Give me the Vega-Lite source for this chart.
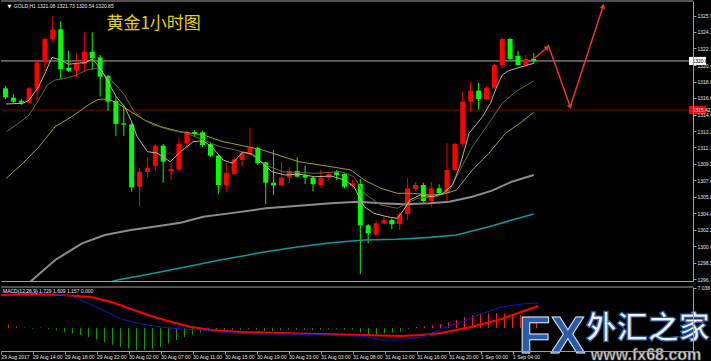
{
  "$schema": "https://vega.github.io/schema/vega-lite/v6.json",
  "background": "#000000",
  "padding": {"left": 0, "top": 0, "right": 1, "bottom": 6},
  "spacing": 2,
  "config": {"view": {"stroke": null}, "text": {"font": "Liberation Sans"}, "axis": {"labelFont": "Liberation Sans", "grid": false}},
  "datasets": {
    "candles": [
      {"k":0,"o":1317.82,"h":1318.08,"l":1316.64,"c":1316.83},
      {"k":1,"o":1316.79,"h":1317.16,"l":1316.17,"c":1316.34},
      {"k":2,"o":1316.45,"h":1316.67,"l":1315.98,"c":1316.23},
      {"k":3,"o":1316.23,"h":1317.94,"l":1316.17,"c":1317.82},
      {"k":4,"o":1317.71,"h":1320.96,"l":1316.45,"c":1320.70},
      {"k":5,"o":1320.70,"h":1323.47,"l":1319.66,"c":1323.28},
      {"k":6,"o":1323.28,"h":1325.82,"l":1322.87,"c":1324.35},
      {"k":7,"o":1324.35,"h":1325.27,"l":1318.82,"c":1319.93},
      {"k":8,"o":1320.07,"h":1321.98,"l":1319.66,"c":1319.77},
      {"k":9,"o":1319.77,"h":1321.70,"l":1319.04,"c":1320.51},
      {"k":10,"o":1320.51,"h":1324.02,"l":1319.66,"c":1321.87},
      {"k":11,"o":1321.87,"h":1324.02,"l":1319.85,"c":1321.14},
      {"k":12,"o":1321.25,"h":1321.51,"l":1316.90,"c":1319.11},
      {"k":13,"o":1319.19,"h":1319.30,"l":1315.31,"c":1316.34},
      {"k":14,"o":1316.45,"h":1316.90,"l":1312.55,"c":1313.88},
      {"k":15,"o":1313.95,"h":1315.98,"l":1312.55,"c":1313.80},
      {"k":16,"o":1313.84,"h":1313.95,"l":1306.39,"c":1306.87},
      {"k":17,"o":1306.94,"h":1309.01,"l":1304.80,"c":1308.60},
      {"k":18,"o":1308.57,"h":1310.15,"l":1307.94,"c":1309.04},
      {"k":19,"o":1309.26,"h":1311.66,"l":1308.71,"c":1311.48},
      {"k":20,"o":1311.48,"h":1311.66,"l":1307.38,"c":1309.71},
      {"k":21,"o":1308.64,"h":1309.59,"l":1307.68,"c":1308.90},
      {"k":22,"o":1308.86,"h":1312.40,"l":1308.60,"c":1311.70},
      {"k":23,"o":1311.70,"h":1313.13,"l":1311.25,"c":1313.02},
      {"k":24,"o":1312.99,"h":1313.21,"l":1312.47,"c":1312.77},
      {"k":25,"o":1312.96,"h":1313.13,"l":1311.36,"c":1311.55},
      {"k":26,"o":1311.66,"h":1311.81,"l":1310.26,"c":1310.37},
      {"k":27,"o":1310.37,"h":1310.56,"l":1306.10,"c":1307.13},
      {"k":28,"o":1307.13,"h":1309.53,"l":1306.39,"c":1308.49},
      {"k":29,"o":1308.34,"h":1310.26,"l":1308.23,"c":1309.97},
      {"k":30,"o":1309.89,"h":1310.81,"l":1309.15,"c":1310.70},
      {"k":31,"o":1310.70,"h":1313.47,"l":1310.63,"c":1311.25},
      {"k":32,"o":1311.25,"h":1311.36,"l":1309.34,"c":1309.53},
      {"k":33,"o":1309.64,"h":1309.71,"l":1305.03,"c":1307.38},
      {"k":34,"o":1307.38,"h":1311.00,"l":1306.02,"c":1307.09},
      {"k":35,"o":1307.09,"h":1309.64,"l":1306.94,"c":1307.94},
      {"k":36,"o":1307.94,"h":1309.15,"l":1307.32,"c":1308.68},
      {"k":37,"o":1308.68,"h":1310.19,"l":1307.94,"c":1308.05},
      {"k":38,"o":1308.20,"h":1309.23,"l":1307.24,"c":1307.94},
      {"k":39,"o":1307.94,"h":1308.05,"l":1306.46,"c":1307.21},
      {"k":40,"o":1307.13,"h":1308.86,"l":1306.76,"c":1307.94},
      {"k":41,"o":1307.94,"h":1308.49,"l":1307.68,"c":1308.34},
      {"k":42,"o":1308.60,"h":1308.79,"l":1307.68,"c":1308.23},
      {"k":43,"o":1308.34,"h":1308.42,"l":1306.76,"c":1306.94},
      {"k":44,"o":1307.05,"h":1307.68,"l":1306.87,"c":1307.32},
      {"k":45,"o":1307.24,"h":1307.76,"l":1297.28,"c":1302.67},
      {"k":46,"o":1302.67,"h":1302.81,"l":1300.68,"c":1301.79},
      {"k":47,"o":1301.67,"h":1303.18,"l":1301.60,"c":1302.89},
      {"k":48,"o":1302.89,"h":1303.62,"l":1302.81,"c":1303.26},
      {"k":49,"o":1303.26,"h":1303.44,"l":1302.23,"c":1302.78},
      {"k":50,"o":1302.81,"h":1304.11,"l":1302.15,"c":1303.92},
      {"k":51,"o":1303.92,"h":1307.87,"l":1303.26,"c":1306.76},
      {"k":52,"o":1306.69,"h":1307.49,"l":1306.50,"c":1307.13},
      {"k":53,"o":1307.13,"h":1307.38,"l":1305.21,"c":1305.36},
      {"k":54,"o":1305.36,"h":1307.49,"l":1304.73,"c":1306.76},
      {"k":55,"o":1306.76,"h":1307.21,"l":1306.02,"c":1306.21},
      {"k":56,"o":1306.21,"h":1311.74,"l":1305.10,"c":1308.79},
      {"k":57,"o":1308.79,"h":1311.81,"l":1308.71,"c":1311.66},
      {"k":58,"o":1311.66,"h":1317.45,"l":1311.36,"c":1316.34},
      {"k":59,"o":1316.34,"h":1318.55,"l":1315.24,"c":1317.56},
      {"k":60,"o":1317.56,"h":1318.44,"l":1315.54,"c":1316.64},
      {"k":61,"o":1316.64,"h":1318.08,"l":1316.53,"c":1317.89},
      {"k":62,"o":1317.89,"h":1320.59,"l":1317.82,"c":1320.40},
      {"k":63,"o":1320.40,"h":1323.47,"l":1320.04,"c":1323.28},
      {"k":64,"o":1323.28,"h":1323.36,"l":1320.96,"c":1321.07},
      {"k":65,"o":1321.43,"h":1321.95,"l":1320.32,"c":1320.40},
      {"k":66,"o":1320.40,"h":1321.51,"l":1320.21,"c":1321.07},
      {"k":67,"o":1321.08,"h":1321.73,"l":1320.54,"c":1320.85}
    ],
    "ma5": [
      {"k":0.1,"v":1316.09},{"k":2.2,"v":1316.16},{"k":3,"v":1316.53},{"k":4.2,"v":1318.0},{"k":5.1,"v":1319.66},{"k":5.9,"v":1321.25},{"k":7,"v":1320.95},{"k":8,"v":1320.48},{"k":9.05,"v":1320.59},{"k":10.1,"v":1320.66},{"k":11,"v":1321.07},{"k":12,"v":1320.07},{"k":13,"v":1318.55},{"k":14.05,"v":1316.89},{"k":15.1,"v":1315.79},{"k":15.9,"v":1314.32},{"k":16.7,"v":1312.47},{"k":18,"v":1310.81},{"k":19.2,"v":1310.67},{"k":20.9,"v":1309.70},{"k":22.2,"v":1310.81},{"k":23.8,"v":1311.92},{"k":25.1,"v":1312.03},{"k":26.3,"v":1311.22},{"k":27.6,"v":1309.89},{"k":28.8,"v":1309.53},{"k":30.1,"v":1310.78},{"k":31.3,"v":1310.55},{"k":32.6,"v":1309.53},{"k":33.8,"v":1308.60},{"k":35.5,"v":1308.23},{"k":37.2,"v":1308.34},{"k":39.2,"v":1308.04},{"k":41.3,"v":1308.12},{"k":43,"v":1307.68},{"k":44.2,"v":1306.94},{"k":45.5,"v":1304.73},{"k":46.7,"v":1304.0},{"k":48.4,"v":1303.62},{"k":49.7,"v":1303.44},{"k":50.5,"v":1304.36},{"k":51.3,"v":1305.47},{"k":52.6,"v":1306.02},{"k":54.2,"v":1305.83},{"k":55.5,"v":1306.21},{"k":56.7,"v":1307.13},{"k":57.6,"v":1309.15},{"k":58.8,"v":1312.84},{"k":60.5,"v":1314.68},{"k":61.5,"v":1316.16},{"k":62.3,"v":1318.0},{"k":63,"v":1319.29},{"k":63.8,"v":1319.77},{"k":65.5,"v":1320.21},{"k":67,"v":1320.59}
    ],
    "ma10": [
      {"k":0.1,"v":1313.02},{"k":1.7,"v":1313.98},{"k":3,"v":1314.87},{"k":4.2,"v":1316.53},{"k":5.3,"v":1318.19},{"k":6.3,"v":1318.74},{"k":7.6,"v":1318.93},{"k":9.05,"v":1319.29},{"k":10.3,"v":1319.85},{"k":11.55,"v":1320.04},{"k":12.6,"v":1319.29},{"k":13.8,"v":1318.37},{"k":15.1,"v":1317.08},{"k":16.3,"v":1315.24},{"k":17.6,"v":1314.32},{"k":18.8,"v":1313.77},{"k":20.9,"v":1313.21},{"k":23,"v":1312.84},{"k":25.1,"v":1312.10},{"k":27.2,"v":1311.36},{"k":29.2,"v":1311.0},{"k":31.3,"v":1310.44},{"k":33,"v":1309.34},{"k":35.1,"v":1308.60},{"k":39.2,"v":1308.42},{"k":42.6,"v":1308.60},{"k":44.2,"v":1308.04},{"k":45.5,"v":1306.21},{"k":47.6,"v":1304.91},{"k":49.7,"v":1304.55},{"k":50.5,"v":1304.91},{"k":52.2,"v":1305.65},{"k":54.7,"v":1305.83},{"k":56.3,"v":1306.57},{"k":57.2,"v":1308.04},{"k":59.2,"v":1311.36},{"k":61.3,"v":1313.95},{"k":63,"v":1316.16},{"k":64.7,"v":1317.45},{"k":67,"v":1318.63}
    ],
    "ma20": [
      {"k":0.1,"v":1307.87},{"k":2.2,"v":1309.53},{"k":4.25,"v":1311.36},{"k":6.3,"v":1313.58},{"k":8.4,"v":1314.68},{"k":10.5,"v":1315.98},{"k":11.75,"v":1316.60},{"k":13,"v":1316.64},{"k":14.2,"v":1316.16},{"k":15.9,"v":1315.24},{"k":17.6,"v":1314.32},{"k":19.7,"v":1313.58},{"k":22.2,"v":1313.02},{"k":25.1,"v":1312.66},{"k":27.6,"v":1311.92},{"k":30.1,"v":1311.47},{"k":32.6,"v":1311.0},{"k":37.2,"v":1309.70},{"k":41.3,"v":1309.15},{"k":43.8,"v":1308.79},{"k":45.5,"v":1307.68},{"k":47.6,"v":1306.76},{"k":49.7,"v":1306.21},{"k":51.7,"v":1306.21},{"k":53.8,"v":1306.02},{"k":55.5,"v":1306.10},{"k":57.2,"v":1306.57},{"k":59.2,"v":1308.79},{"k":61.3,"v":1310.63},{"k":63.4,"v":1312.84},{"k":65.5,"v":1314.13},{"k":67,"v":1315.17}
    ],
    "ma60": [
      {"k":2,"v":1295.5},{"k":3.4,"v":1296.62},{"k":6.3,"v":1298.83},{"k":9.7,"v":1300.68},{"k":12.6,"v":1301.59},{"k":15.9,"v":1302.15},{"k":18.8,"v":1302.51},{"k":22.2,"v":1302.96},{"k":25.1,"v":1303.62},{"k":28.4,"v":1303.99},{"k":33,"v":1304.55},{"k":37.2,"v":1304.84},{"k":41.3,"v":1305.10},{"k":44.7,"v":1305.28},{"k":47.6,"v":1305.10},{"k":50.5,"v":1304.99},{"k":53.8,"v":1305.10},{"k":56.3,"v":1305.28},{"k":59.2,"v":1305.83},{"k":61.7,"v":1306.50},{"k":64.2,"v":1307.49},{"k":67,"v":1308.23}
    ],
    "ma120": [
      {"k":12.5,"v":1296.2},{"k":14.2,"v":1296.62},{"k":18.8,"v":1297.36},{"k":23,"v":1298.09},{"k":27.2,"v":1298.83},{"k":30.1,"v":1299.27},{"k":33,"v":1299.75},{"k":37.2,"v":1300.30},{"k":41.3,"v":1300.74},{"k":45.5,"v":1301.04},{"k":49.7,"v":1301.12},{"k":53.8,"v":1301.34},{"k":57.2,"v":1301.59},{"k":58.8,"v":1301.96},{"k":61.3,"v":1302.51},{"k":64.2,"v":1303.25},{"k":67,"v":1303.92}
    ],
    "arrows": [
      {"seg":1,"k":67.09,"p":1321.14},{"seg":1,"k":68.71,"p":1322.36},
      {"seg":2,"k":68.84,"p":1322.61},{"seg":2,"k":71.63,"p":1315.79},
      {"seg":3,"k":71.63,"p":1315.79},{"seg":3,"k":75.8,"p":1326.93}
    ],
    "hist": [
      {"k":0,"h":0.4},{"k":1,"h":0.6},{"k":2,"h":0.3},{"k":3,"h":0.1},{"k":4,"h":-0.1},{"k":5,"h":0.1},{"k":6,"h":-0.2},{"k":7,"h":-0.4},{"k":8,"h":-0.7},{"k":9,"h":-0.9},{"k":10,"h":-1.2},{"k":11,"h":-1.6},{"k":12,"h":-2.0},{"k":13,"h":-2.5},{"k":14,"h":-2.9},{"k":15,"h":-3.3},{"k":16,"h":-3.6},{"k":17,"h":-3.85},{"k":18,"h":-3.8},{"k":19,"h":-3.6},{"k":20,"h":-3.3},{"k":21,"h":-2.7},{"k":22,"h":-2.1},{"k":23,"h":-1.6},{"k":24,"h":-1.1},{"k":25,"h":-0.8},{"k":26,"h":-0.6},{"k":27,"h":-0.4},{"k":28,"h":-0.4},{"k":29,"h":-0.3},{"k":30,"h":-0.3},{"k":31,"h":-0.2},{"k":32,"h":-0.3},{"k":33,"h":-0.5},{"k":34,"h":-0.5},{"k":35,"h":-0.4},{"k":36,"h":-0.3},{"k":37,"h":-0.3},{"k":38,"h":-0.3},{"k":39,"h":-0.4},{"k":40,"h":-0.3},{"k":41,"h":-0.2},{"k":42,"h":-0.2},{"k":43,"h":-0.3},{"k":44,"h":-0.3},{"k":45,"h":-0.8},{"k":46,"h":-1.1},{"k":47,"h":-1.1},{"k":48,"h":-0.9},{"k":49,"h":-0.8},{"k":50,"h":-0.6},{"k":51,"h":-0.2},{"k":52,"h":0.2},{"k":53,"h":0.3},{"k":54,"h":0.5},{"k":55,"h":0.7},{"k":56,"h":1.0},{"k":57,"h":1.4},{"k":58,"h":1.9},{"k":59,"h":2.3},{"k":60,"h":2.5},{"k":61,"h":2.6},{"k":62,"h":2.6},{"k":63,"h":2.6},{"k":64,"h":2.5},{"k":65,"h":2.3},{"k":66,"h":2.1},{"k":67,"h":1.9}
    ],
    "dif": [
      {"k":0.09,"v":6.32},{"k":5.09,"v":6.32},{"k":8.84,"v":5.62},{"k":12.59,"v":3.34},{"k":15.09,"v":1.59},{"k":17.59,"v":0.72},{"k":20.09,"v":0.19},{"k":22.59,"v":-0.16},{"k":25.09,"v":-0.33},{"k":28.84,"v":-0.86},{"k":32.59,"v":-1.03},{"k":36.34,"v":-1.03},{"k":41.34,"v":-1.21},{"k":45.09,"v":-1.38},{"k":47.59,"v":-2.08},{"k":50.09,"v":-2.08},{"k":52.59,"v":-1.56},{"k":55.09,"v":-0.16},{"k":57.59,"v":1.07},{"k":60.09,"v":2.47},{"k":62.59,"v":3.70},{"k":65.09,"v":4.22},{"k":67.21,"v":4.40}
    ],
    "dea": [
      {"k":0.09,"v":5.80},{"k":3.84,"v":5.97},{"k":7.59,"v":5.80},{"k":11.34,"v":5.45},{"k":13.84,"v":4.57},{"k":16.34,"v":3.34},{"k":18.84,"v":2.12},{"k":21.34,"v":1.07},{"k":23.84,"v":0.19},{"k":26.34,"v":-0.33},{"k":30.09,"v":-0.68},{"k":35.09,"v":-0.86},{"k":40.09,"v":-1.03},{"k":45.09,"v":-1.21},{"k":50.09,"v":-1.38},{"k":52.59,"v":-1.21},{"k":55.09,"v":-0.86},{"k":58.84,"v":0.19},{"k":62.59,"v":1.59},{"k":65.09,"v":2.82},{"k":67.21,"v":3.87}
    ],
    "pticks": [
      {"p":1296.70},{"p":1298.52},{"p":1300.36},{"p":1302.17},{"p":1303.99},{"p":1305.81},{"p":1307.63},{"p":1309.46},{"p":1311.28},{"p":1313.10},{"p":1314.92},{"p":1316.76},{"p":1318.56},{"p":1320.39},{"p":1322.25},{"p":1324.06},{"p":1325.86}
    ]
  },
  "vconcat": [
    {
      "width": 692,
      "height": 280,
      "resolve": {"axis": {"x": "independent", "y": "independent"}},
      "layer": [
        {
          "data": {"name": "pticks"},
          "mark": {"type": "tick", "opacity": 0},
          "encoding": {
            "x": {"datum": 1, "type": "quantitative", "scale": {"domain": [0.0625, 86.5625], "nice": false, "zero": false},
                  "axis": {"orient": "bottom", "labels": false, "ticks": false, "domain": true, "domainColor": "#a0a0a0", "title": null}},
            "y": {"field": "p", "type": "quantitative", "scale": {"domain": [1296.51, 1327.48], "nice": false, "zero": false},
                  "axis": {"orient": "right", "title": null, "values": [1296.70, 1298.52, 1300.36, 1302.17, 1303.99, 1305.81, 1307.63, 1309.46, 1311.28, 1313.10, 1314.92, 1316.76, 1318.56, 1320.39, 1322.25, 1324.06, 1325.86],
                           "format": ".1f", "labelFontSize": 5, "labelColor": "#e6e6e6", "labelPadding": 1, "tickSize": 3, "tickColor": "#a0a0a0", "domainColor": "#a0a0a0", "labelOverlap": false, "labelFlush": false, "labelBound": false, "zindex": 1}}
          }
        },
        {
          "data": {"values": [{}]},
          "mark": {"type": "rule", "color": "#a0a0a0", "strokeWidth": 1},
          "encoding": {"y": {"datum": 1327.48, "type": "quantitative", "scale": {"domain": [1296.51, 1327.48], "nice": false, "zero": false}, "axis": null}}
        },
        {
          "data": {"values": [{}]},
          "mark": {"type": "rule", "color": "#b0b0b0", "strokeWidth": 1},
          "encoding": {"y": {"datum": 1320.85, "type": "quantitative", "scale": {"domain": [1296.51, 1327.48], "nice": false, "zero": false}, "axis": null}}
        },
        {
          "data": {"values": [{}]},
          "mark": {"type": "rule", "color": "#8b0000", "strokeWidth": 1},
          "encoding": {"y": {"datum": 1315.42, "type": "quantitative", "scale": {"domain": [1296.51, 1327.48], "nice": false, "zero": false}, "axis": null}}
        },
        {
          "data": {"name": "candles"},
          "mark": {"type": "rule", "strokeWidth": 1, "clip": true},
          "encoding": {
            "x": {"field": "k", "type": "quantitative", "scale": {"domain": [0.0625, 86.5625], "nice": false, "zero": false}, "axis": null},
            "y": {"field": "l", "type": "quantitative", "scale": {"domain": [1296.51, 1327.48], "nice": false, "zero": false}, "axis": null},
            "y2": {"field": "h"},
            "color": {"condition": {"test": "datum.c >= datum.o", "value": "#ff0000"}, "value": "#00ff00"}
          }
        },
        {
          "data": {"name": "candles"},
          "mark": {"type": "bar", "width": 5, "clip": true},
          "encoding": {
            "x": {"field": "k", "type": "quantitative", "scale": {"domain": [0.0625, 86.5625], "nice": false, "zero": false}, "axis": null},
            "y": {"field": "o", "type": "quantitative", "scale": {"domain": [1296.51, 1327.48], "nice": false, "zero": false}, "axis": null},
            "y2": {"field": "c"},
            "color": {"condition": {"test": "datum.c >= datum.o", "value": "#ff0000"}, "value": "#00ff00"}
          }
        },
        {
          "data": {"name": "ma120"},
          "mark": {"type": "line", "color": "#0a9a9a", "strokeWidth": 1.6, "clip": true},
          "encoding": {
            "x": {"field": "k", "type": "quantitative", "scale": {"domain": [0.0625, 86.5625], "nice": false, "zero": false}, "axis": null},
            "y": {"field": "v", "type": "quantitative", "scale": {"domain": [1296.51, 1327.48], "nice": false, "zero": false}, "axis": null}
          }
        },
        {
          "data": {"name": "ma60"},
          "mark": {"type": "line", "color": "#8c8c8c", "strokeWidth": 2, "clip": true},
          "encoding": {
            "x": {"field": "k", "type": "quantitative", "scale": {"domain": [0.0625, 86.5625], "nice": false, "zero": false}, "axis": null},
            "y": {"field": "v", "type": "quantitative", "scale": {"domain": [1296.51, 1327.48], "nice": false, "zero": false}, "axis": null}
          }
        },
        {
          "data": {"name": "ma20"},
          "mark": {"type": "line", "color": "#a89e1e", "strokeWidth": 1, "clip": true},
          "encoding": {
            "x": {"field": "k", "type": "quantitative", "scale": {"domain": [0.0625, 86.5625], "nice": false, "zero": false}, "axis": null},
            "y": {"field": "v", "type": "quantitative", "scale": {"domain": [1296.51, 1327.48], "nice": false, "zero": false}, "axis": null}
          }
        },
        {
          "data": {"name": "ma10"},
          "mark": {"type": "line", "color": "#6e6826", "strokeWidth": 1, "clip": true},
          "encoding": {
            "x": {"field": "k", "type": "quantitative", "scale": {"domain": [0.0625, 86.5625], "nice": false, "zero": false}, "axis": null},
            "y": {"field": "v", "type": "quantitative", "scale": {"domain": [1296.51, 1327.48], "nice": false, "zero": false}, "axis": null}
          }
        },
        {
          "data": {"name": "ma5"},
          "mark": {"type": "line", "color": "#bfb3a0", "strokeWidth": 1, "clip": true},
          "encoding": {
            "x": {"field": "k", "type": "quantitative", "scale": {"domain": [0.0625, 86.5625], "nice": false, "zero": false}, "axis": null},
            "y": {"field": "v", "type": "quantitative", "scale": {"domain": [1296.51, 1327.48], "nice": false, "zero": false}, "axis": null}
          }
        },
        {
          "data": {"name": "arrows"},
          "mark": {"type": "line", "color": "#f03232", "strokeWidth": 1.5},
          "encoding": {
            "x": {"field": "k", "type": "quantitative", "scale": {"domain": [0.0625, 86.5625], "nice": false, "zero": false}, "axis": null},
            "y": {"field": "p", "type": "quantitative", "scale": {"domain": [1296.51, 1327.48], "nice": false, "zero": false}, "axis": null},
            "detail": {"field": "seg", "type": "nominal"}
          }
        },
        {
          "data": {"values": [{"k": 68.71, "p": 1322.36}]},
          "mark": {"type": "point", "shape": "triangle-up", "filled": true, "size": 30, "angle": 50, "color": "#f03232", "opacity": 1},
          "encoding": {
            "x": {"field": "k", "type": "quantitative", "scale": {"domain": [0.0625, 86.5625], "nice": false, "zero": false}, "axis": null},
            "y": {"field": "p", "type": "quantitative", "scale": {"domain": [1296.51, 1327.48], "nice": false, "zero": false}, "axis": null}
          }
        },
        {
          "data": {"values": [{"k": 71.63, "p": 1315.79}]},
          "mark": {"type": "point", "shape": "triangle-up", "filled": true, "size": 30, "angle": 160, "color": "#f03232", "opacity": 1},
          "encoding": {
            "x": {"field": "k", "type": "quantitative", "scale": {"domain": [0.0625, 86.5625], "nice": false, "zero": false}, "axis": null},
            "y": {"field": "p", "type": "quantitative", "scale": {"domain": [1296.51, 1327.48], "nice": false, "zero": false}, "axis": null}
          }
        },
        {
          "data": {"values": [{"k": 75.8, "p": 1326.93}]},
          "mark": {"type": "point", "shape": "triangle-up", "filled": true, "size": 30, "angle": 18, "color": "#f03232", "opacity": 1},
          "encoding": {
            "x": {"field": "k", "type": "quantitative", "scale": {"domain": [0.0625, 86.5625], "nice": false, "zero": false}, "axis": null},
            "y": {"field": "p", "type": "quantitative", "scale": {"domain": [1296.51, 1327.48], "nice": false, "zero": false}, "axis": null}
          }
        },
        {
          "data": {"values": [{}]},
          "mark": {"type": "text", "text": "▼", "font": "DejaVu Sans", "fontSize": 5, "color": "#ffffff", "align": "center", "baseline": "middle"},
          "encoding": {
            "x": {"datum": 0.5, "type": "quantitative", "scale": {"domain": [0.0625, 86.5625], "nice": false, "zero": false}, "axis": null},
            "y": {"datum": 1326.93, "type": "quantitative", "scale": {"domain": [1296.51, 1327.48], "nice": false, "zero": false}, "axis": null}
          }
        },
        {
          "data": {"values": [{}]},
          "mark": {"type": "text", "text": "GOLD,H1  1321.08 1321.73 1320.54 1320.85", "fontSize": 5, "color": "#e8e8e8", "align": "left", "baseline": "middle"},
          "encoding": {
            "x": {"datum": 1.06, "type": "quantitative", "scale": {"domain": [0.0625, 86.5625], "nice": false, "zero": false}, "axis": null},
            "y": {"datum": 1326.93, "type": "quantitative", "scale": {"domain": [1296.51, 1327.48], "nice": false, "zero": false}, "axis": null}
          }
        },
        {
          "data": {"values": [{}]},
          "mark": {"type": "text", "text": "黄金1小时图", "font": "Noto Sans CJK SC", "fontSize": 17, "color": "#e6d200", "align": "left", "baseline": "middle"},
          "encoding": {
            "x": {"datum": 12.8, "type": "quantitative", "scale": {"domain": [0.0625, 86.5625], "nice": false, "zero": false}, "axis": null},
            "y": {"datum": 1324.94, "type": "quantitative", "scale": {"domain": [1296.51, 1327.48], "nice": false, "zero": false}, "axis": null}
          }
        },
        {
          "data": {"values": [{"p": 1320.85}]},
          "mark": {"type": "rect", "color": "#ffffff"},
          "encoding": {
            "x": {"datum": 86.69, "type": "quantitative", "scale": {"domain": [0.0625, 86.5625], "nice": false, "zero": false}, "axis": null},
            "x2": {"datum": 88.85},
            "y": {"datum": 1320.40, "type": "quantitative", "scale": {"domain": [1296.51, 1327.48], "nice": false, "zero": false}, "axis": null},
            "y2": {"datum": 1321.30}
          }
        },
        {
          "data": {"values": [{"p": 1320.85, "lbl": "1320.85"}]},
          "mark": {"type": "text", "fontSize": 5, "color": "#000000", "align": "left", "baseline": "middle"},
          "encoding": {
            "x": {"datum": 87.12, "type": "quantitative", "scale": {"domain": [0.0625, 86.5625], "nice": false, "zero": false}, "axis": null},
            "y": {"field": "p", "type": "quantitative", "scale": {"domain": [1296.51, 1327.48], "nice": false, "zero": false}, "axis": null},
            "text": {"field": "lbl"}
          }
        },
        {
          "data": {"values": [{"p": 1315.42}]},
          "mark": {"type": "rect", "color": "#ff0000"},
          "encoding": {
            "x": {"datum": 86.69, "type": "quantitative", "scale": {"domain": [0.0625, 86.5625], "nice": false, "zero": false}, "axis": null},
            "x2": {"datum": 88.85},
            "y": {"datum": 1314.97, "type": "quantitative", "scale": {"domain": [1296.51, 1327.48], "nice": false, "zero": false}, "axis": null},
            "y2": {"datum": 1315.87}
          }
        },
        {
          "data": {"values": [{"p": 1315.42, "lbl": "1315.42"}]},
          "mark": {"type": "text", "fontSize": 5, "color": "#ffffff", "align": "left", "baseline": "middle"},
          "encoding": {
            "x": {"datum": 87.12, "type": "quantitative", "scale": {"domain": [0.0625, 86.5625], "nice": false, "zero": false}, "axis": null},
            "y": {"field": "p", "type": "quantitative", "scale": {"domain": [1296.51, 1327.48], "nice": false, "zero": false}, "axis": null},
            "text": {"field": "lbl"}
          }
        }
      ]
    },
    {
      "width": 692,
      "height": 64,
      "resolve": {"axis": {"x": "independent", "y": "independent"}},
      "layer": [
        {
          "data": {"name": "hist"},
          "mark": {"type": "rule", "strokeWidth": 1, "clip": true},
          "encoding": {
            "x": {"field": "k", "type": "quantitative", "scale": {"domain": [0.0625, 86.5625], "nice": false, "zero": false},
                  "axis": {"orient": "bottom", "title": null, "values": [0.0625, 4, 8, 12, 16, 20, 24, 28, 32, 36, 40, 44, 48, 52, 56, 60, 64],
                           "labelExpr": "['29 Aug 2017','29 Aug 14:00','29 Aug 18:00','29 Aug 22:00','30 Aug 02:00','30 Aug 07:00','30 Aug 11:00','30 Aug 15:00','30 Aug 19:00','30 Aug 23:00','31 Aug 03:00','31 Aug 08:00','31 Aug 12:00','31 Aug 16:00','31 Aug 20:00','1 Sep 00:00','1 Sep 04:00'][round(datum.value/4)]",
                           "labelAlign": "left", "labelBaseline": "top", "labelFontSize": 5, "labelColor": "#e6e6e6", "labelPadding": 0, "tickSize": 3, "tickColor": "#a0a0a0", "domainColor": "#a0a0a0", "labelOverlap": false, "labelFlush": false, "labelBound": false, "zindex": 1}},
            "y": {"field": "h", "type": "quantitative", "scale": {"domain": [-4.0, 7.2], "nice": false, "zero": false},
                  "axis": {"orient": "right", "title": null, "values": [7.038], "format": ".3f", "labelFontSize": 5, "labelColor": "#e6e6e6", "labelPadding": 1, "tickSize": 3, "tickColor": "#a0a0a0", "domainColor": "#a0a0a0", "labelFlush": false, "labelBound": false, "zindex": 1}},
            "y2": {"datum": 0},
            "color": {"condition": {"test": "datum.h >= 0", "value": "#ff1a1a"}, "value": "#00a000"}
          }
        },
        {
          "data": {"values": [{}]},
          "mark": {"type": "rule", "color": "#a0a0a0", "strokeWidth": 1},
          "encoding": {"y": {"datum": 7.2, "type": "quantitative", "scale": {"domain": [-4.0, 7.2], "nice": false, "zero": false}, "axis": null}}
        },
        {
          "data": {"name": "dea"},
          "mark": {"type": "line", "color": "#ff0000", "strokeWidth": 2, "clip": true},
          "encoding": {
            "x": {"field": "k", "type": "quantitative", "scale": {"domain": [0.0625, 86.5625], "nice": false, "zero": false}, "axis": null},
            "y": {"field": "v", "type": "quantitative", "scale": {"domain": [-4.0, 7.2], "nice": false, "zero": false}, "axis": null}
          }
        },
        {
          "data": {"name": "dif"},
          "mark": {"type": "line", "color": "#1414c8", "strokeWidth": 1, "clip": true},
          "encoding": {
            "x": {"field": "k", "type": "quantitative", "scale": {"domain": [0.0625, 86.5625], "nice": false, "zero": false}, "axis": null},
            "y": {"field": "v", "type": "quantitative", "scale": {"domain": [-4.0, 7.2], "nice": false, "zero": false}, "axis": null}
          }
        },
        {
          "data": {"values": [{}]},
          "mark": {"type": "text", "text": "MACD(12,26,9) 1.729 1.609 1.157 0.000", "fontSize": 5, "color": "#e8e8e8", "align": "left", "baseline": "middle"},
          "encoding": {
            "x": {"datum": 0.31, "type": "quantitative", "scale": {"domain": [0.0625, 86.5625], "nice": false, "zero": false}, "axis": null},
            "y": {"datum": 6.5, "type": "quantitative", "scale": {"domain": [-4.0, 7.2], "nice": false, "zero": false}, "axis": null}
          }
        },
        {
          "data": {"values": [{}]},
          "mark": {"type": "text", "text": "FX", "fontSize": 52, "fontWeight": "bold", "color": "#2a5caa", "stroke": "#dfe8f5", "strokeWidth": 1, "align": "center", "baseline": "alphabetic"},
          "encoding": {
            "x": {"datum": 68.94, "type": "quantitative", "scale": {"domain": [0.0625, 86.5625], "nice": false, "zero": false}, "axis": null},
            "y": {"datum": -4.36, "type": "quantitative", "scale": {"domain": [-4.0, 7.2], "nice": false, "zero": false}, "axis": null}
          }
        },
        {
          "data": {"values": [{}]},
          "mark": {"type": "text", "text": "外汇之家", "font": "Noto Sans CJK SC", "fontSize": 31, "fontWeight": "bold", "color": "#f0f0f0", "stroke": "#2a5caa", "strokeWidth": 1.2, "align": "center", "baseline": "middle"},
          "encoding": {
            "x": {"datum": 80.9, "type": "quantitative", "scale": {"domain": [0.0625, 86.5625], "nice": false, "zero": false}, "axis": null},
            "y": {"datum": -0.16, "type": "quantitative", "scale": {"domain": [-4.0, 7.2], "nice": false, "zero": false}, "axis": null}
          }
        },
        {
          "data": {"values": [{}]},
          "mark": {"type": "text", "text": "www.fx68.com", "fontSize": 16, "fontWeight": "bold", "color": "#d8d8d8", "stroke": "#555555", "strokeWidth": 0.6, "align": "center", "baseline": "middle"},
          "encoding": {
            "x": {"datum": 80.69, "type": "quantitative", "scale": {"domain": [0.0625, 86.5625], "nice": false, "zero": false}, "axis": null},
            "y": {"datum": -4.71, "type": "quantitative", "scale": {"domain": [-4.0, 7.2], "nice": false, "zero": false}, "axis": null}
          }
        }
      ]
    }
  ]
}
